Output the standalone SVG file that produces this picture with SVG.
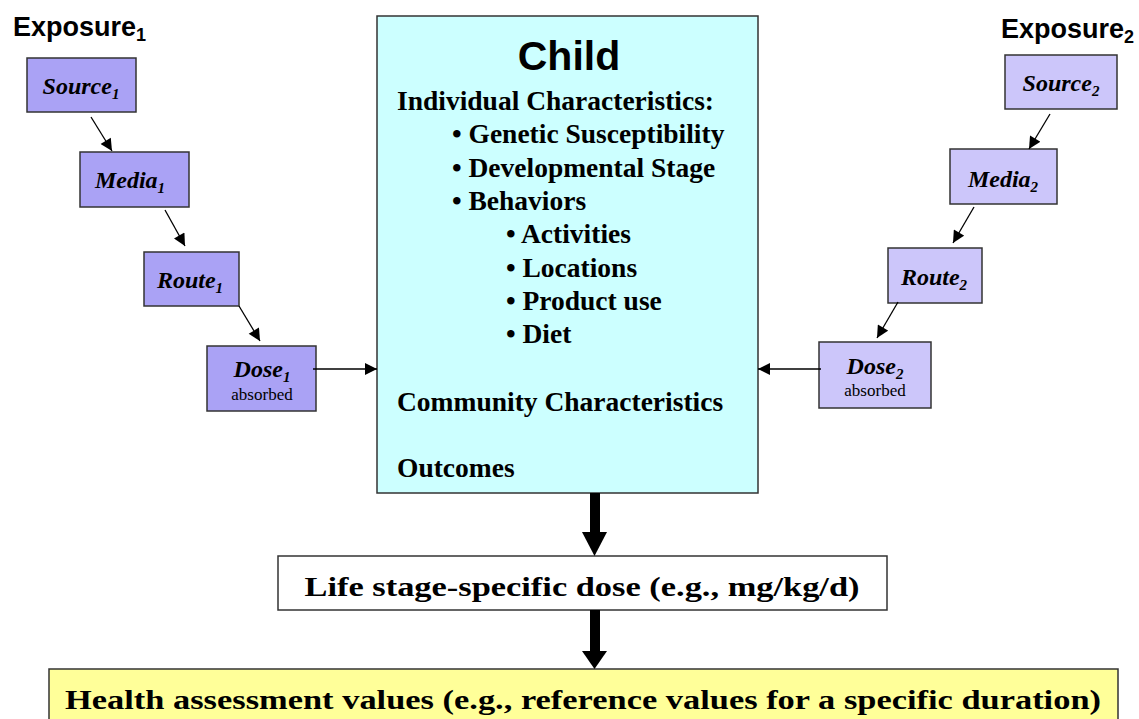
<svg xmlns="http://www.w3.org/2000/svg" width="1139" height="719" viewBox="0 0 1139 719">
<style>
.box{stroke:#333;stroke-width:1.5}
.l{fill:#AAA2F5}
.r{fill:#CCC6FA}
.bi{font-family:"Liberation Serif","Times New Roman",Times,serif;font-weight:bold;font-style:italic;font-size:24px;fill:#000}
.sub{font-size:15px}
.abs{font-family:"Liberation Serif","Times New Roman",Times,serif;font-size:17px;fill:#000}
.exp{font-family:"Liberation Sans",Arial,sans-serif;font-weight:bold;font-size:27px;fill:#000}
.tb{font-family:"Liberation Serif","Times New Roman",Times,serif;font-weight:bold;font-size:27.5px;fill:#000}
.thin{stroke:#000;stroke-width:1.3;fill:none}
</style>
<defs>
<marker id="ah" viewBox="0 0 10 10" refX="10" refY="5" markerWidth="14" markerHeight="12" markerUnits="userSpaceOnUse" orient="auto">
<path d="M0,0 L10,5 L0,10 Z" fill="#000"/>
</marker>
</defs>
<rect width="1139" height="719" fill="#fff"/>

<g id="exposure1"><text class="exp" x="13" y="36">Exposure<tspan dy="5" font-size="18">1</tspan></text></g>
<g id="exposure2"><text class="exp" x="1001" y="38">Exposure<tspan dy="5" font-size="18">2</tspan></text></g>

<g id="source1"><rect class="box l" x="27" y="58" width="109" height="54"/><text class="bi" x="81" y="94" text-anchor="middle">Source<tspan class="sub" dy="5">1</tspan></text></g>
<g id="media1"><rect class="box l" x="80" y="152" width="109" height="55"/><text class="bi" x="130" y="188" text-anchor="middle">Media<tspan class="sub" dy="5">1</tspan></text></g>
<g id="route1"><rect class="box l" x="144" y="252" width="95" height="54"/><text class="bi" x="190" y="288" text-anchor="middle">Route<tspan class="sub" dy="5">1</tspan></text></g>
<g id="dose1"><rect class="box l" x="207" y="346" width="109" height="65"/><text class="bi" x="262" y="377" text-anchor="middle">Dose<tspan class="sub" dy="5">1</tspan></text><text class="abs" x="262" y="400" text-anchor="middle">absorbed</text></g>

<g id="source2"><rect class="box r" x="1005" y="55" width="112" height="54"/><text class="bi" x="1061" y="91" text-anchor="middle">Source<tspan class="sub" dy="5">2</tspan></text></g>
<g id="media2"><rect class="box r" x="950" y="149" width="107" height="55"/><text class="bi" x="1003" y="187" text-anchor="middle">Media<tspan class="sub" dy="5">2</tspan></text></g>
<g id="route2"><rect class="box r" x="888" y="248" width="94" height="55"/><text class="bi" x="934" y="285" text-anchor="middle">Route<tspan class="sub" dy="5">2</tspan></text></g>
<g id="dose2"><rect class="box r" x="819" y="342" width="112" height="66"/><text class="bi" x="875" y="374" text-anchor="middle">Dose<tspan class="sub" dy="5">2</tspan></text><text class="abs" x="875" y="396" text-anchor="middle">absorbed</text></g>

<g id="child">
<rect class="box" fill="#CCFFFF" x="377" y="16" width="381" height="477"/>
<text x="569" y="70" text-anchor="middle" font-family="'Liberation Sans',Arial,sans-serif" font-weight="bold" font-size="41">Child</text>
<text class="tb" x="397" y="110">Individual Characteristics:</text>
<text class="tb" x="452" y="143">• Genetic Susceptibility</text>
<text class="tb" x="452" y="177">• Developmental Stage</text>
<text class="tb" x="452" y="210">• Behaviors</text>
<text class="tb" x="506" y="243">• Activities</text>
<text class="tb" x="506" y="277">• Locations</text>
<text class="tb" x="506" y="310">• Product use</text>
<text class="tb" x="506" y="343">• Diet</text>
<text class="tb" x="397" y="411">Community Characteristics</text>
<text class="tb" x="397" y="477">Outcomes</text>
</g>

<g id="lifestage">
<rect class="box" fill="#fff" x="278" y="556" width="609" height="54"/>
<text class="tb" x="582" y="596" text-anchor="middle" font-size="31" textLength="555" lengthAdjust="spacingAndGlyphs">Life stage-specific dose (e.g., mg/kg/d)</text>
</g>

<g id="health">
<rect class="box" fill="#FFFF99" x="49" y="669" width="1069" height="60"/>
<text class="tb" x="583" y="709" text-anchor="middle" font-size="32" textLength="1036" lengthAdjust="spacingAndGlyphs">Health assessment values (e.g., reference values for a specific duration)</text>
</g>

<g id="connectors">
<line class="thin" x1="91" y1="117" x2="112" y2="151" marker-end="url(#ah)"/>
<line class="thin" x1="165" y1="210" x2="185" y2="246" marker-end="url(#ah)"/>
<line class="thin" x1="239" y1="306" x2="260" y2="341" marker-end="url(#ah)"/>
<line class="thin" x1="313" y1="369" x2="377" y2="369" marker-end="url(#ah)"/>
<line class="thin" x1="1050" y1="114" x2="1029" y2="149" marker-end="url(#ah)"/>
<line class="thin" x1="974" y1="207" x2="953" y2="243" marker-end="url(#ah)"/>
<line class="thin" x1="898" y1="302" x2="877" y2="338" marker-end="url(#ah)"/>
<line class="thin" x1="821" y1="369" x2="758" y2="369" marker-end="url(#ah)"/>
<rect x="590" y="493" width="10" height="40" fill="#000"/>
<path d="M582,532 L607,532 L594.5,556 Z" fill="#000"/>
<rect x="590" y="610" width="10" height="42" fill="#000"/>
<path d="M582,651 L607,651 L594.5,669 Z" fill="#000"/>
</g>
</svg>
